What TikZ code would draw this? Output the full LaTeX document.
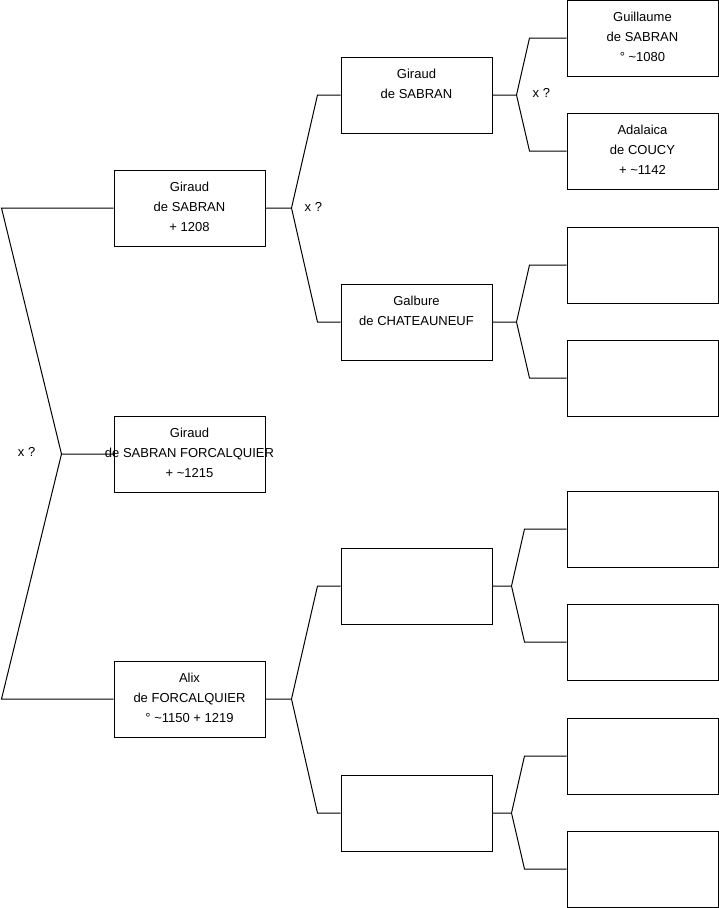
\documentclass[tikz,border=0pt]{standalone}
\usepackage{fontspec}
\setmainfont{Liberation Sans}
\usetikzlibrary{positioning}
\tikzset{
  person/.style={
    draw,
    line width=1pt,
    minimum width=151pt,
    minimum height=76pt,
    inner sep=0pt,
  },
  persontext/.style={
    anchor=north,
    align=center,
    inner sep=0pt,
    yshift=-12pt,
    font=\fontsize{13}{20}\selectfont,
  },
  branch/.style={
    line width=1pt,
  },
  unionlabel/.style={
    inner sep=1pt,
    font=\fontsize{13}{16}\selectfont,
  },
}

\begin{document}
\begin{tikzpicture}[x=1pt, y=-1pt]
  \useasboundingbox (0,0) rectangle (719,908);

  % children
  \node[person, label={[persontext, name=g1text]north:Giraud\\de SABRAN\\+ 1208}] (g1) at (189.5,208) {};
  \node[person, label={[persontext, name=g2text]north:Giraud\\de SABRAN FORCALQUIER\\+ \textasciitilde1215}] (g2) at (189.5,454) {};
  \node[person, label={[persontext, name=alixtext]north:Alix\\de FORCALQUIER\\° \textasciitilde1150 + 1219}] (alix) at (189.5,699) {};

  % parents
  \node[person, label={[persontext, name=gsabtext]north:Giraud\\de SABRAN}] (gsab) at (416.5,95) {};
  \node[person, label={[persontext, name=galbtext]north:Galbure\\de CHATEAUNEUF}] (galb) at (416.5,322) {};
  \node[person] (ap) at (416.5,586) {};
  \node[person] (am) at (416.5,813) {};

  % grandparents
  \node[person, label={[persontext, name=guiltext]north:Guillaume\\de SABRAN\\° \textasciitilde1080}] (guil) at (642.5,38) {};
  \node[person, label={[persontext, name=adaltext]north:Adalaica\\de COUCY\\+ \textasciitilde1142}] (adal) at (642.5,151) {};
  \node[person] (galbp) at (642.5,265) {};
  \node[person] (galbm) at (642.5,378) {};
  \node[person] (app) at (642.5,529) {};
  \node[person] (apm) at (642.5,642) {};
  \node[person] (amp) at (642.5,756) {};
  \node[person] (amm) at (642.5,869) {};

  % junctions
  \coordinate[left=52pt of g2.west] (j0);
  \coordinate[right=26pt of g1.east] (j1);
  \coordinate[right=26pt of alix.east] (j2);
  \coordinate[right=24pt of gsab.east] (j3);
  \coordinate[right=24pt of galb.east] (j4);
  \coordinate[right=19pt of ap.east] (j5);
  \coordinate[right=19pt of am.east] (j6);

  \draw[branch] (g1.west) -- ([xshift=-112pt]g1.west) -- (j0) -- (g2.west);
  \draw[branch] (alix.west) -- ([xshift=-112pt]alix.west) -- (j0);

  \draw[branch] (g1.east) -- (j1) -- ([xshift=-23pt]gsab.west) -- (gsab.west);
  \draw[branch] (j1) -- ([xshift=-23pt]galb.west) -- (galb.west);
  \draw[branch] (alix.east) -- (j2) -- ([xshift=-23pt]ap.west) -- (ap.west);
  \draw[branch] (j2) -- ([xshift=-23pt]am.west) -- (am.west);

  \draw[branch] (gsab.east) -- (j3) -- ([xshift=-37pt]guil.west) -- (guil.west);
  \draw[branch] (j3) -- ([xshift=-37pt]adal.west) -- (adal.west);
  \draw[branch] (galb.east) -- (j4) -- ([xshift=-37pt]galbp.west) -- (galbp.west);
  \draw[branch] (j4) -- ([xshift=-37pt]galbm.west) -- (galbm.west);
  \draw[branch] (ap.east) -- (j5) -- ([xshift=-42pt]app.west) -- (app.west);
  \draw[branch] (j5) -- ([xshift=-42pt]apm.west) -- (apm.west);
  \draw[branch] (am.east) -- (j6) -- ([xshift=-42pt]amp.west) -- (amp.west);
  \draw[branch] (j6) -- ([xshift=-42pt]amm.west) -- (amm.west);

  \node[unionlabel, left=25pt of j0, yshift=2pt] (x0) {x ?};
  \node[unionlabel, right=12pt of j1, yshift=1pt] (x1) {x ?};
  \node[unionlabel, right=15pt of j3, yshift=2pt] (x3) {x ?};
\end{tikzpicture}
\end{document}
